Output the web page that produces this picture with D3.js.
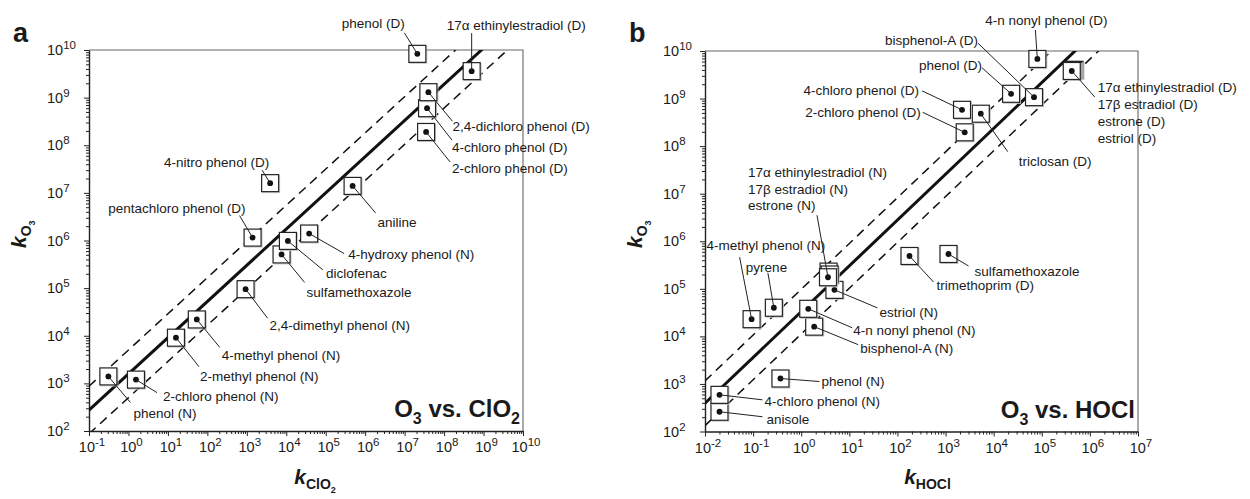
<!DOCTYPE html>
<html>
<head>
<meta charset="utf-8">
<script src="https://cdn.jsdelivr.net/npm/d3@7"></script>
<style>
  body { margin: 0; background: #fff; }
  svg { display: block; }
  text { font-family: Arial, "Liberation Sans", sans-serif; fill: #1a1a1a; }
</style>
</head>
<body>
<svg id="chart" width="1250" height="499"></svg>
<script>
// ---- Panel a: second-order rate constants, O3 vs. ClO2 (M^-1 s^-1) ----
const namesA = [
  "phenol (D)", "17\u03b1 ethinylestradiol (D)", "2,4-dichloro phenol (D)",
  "4-chloro phenol (D)", "2-chloro phenol (D)", "aniline", "4-nitro phenol (D)",
  "pentachloro phenol (D)", "4-hydroxy phenol (N)", "diclofenac", "sulfamethoxazole",
  "2,4-dimethyl phenol (N)", "4-methyl phenol (N)", "2-methyl phenol (N)",
  "phenol (N)", "2-chloro phenol (N)"
];
const kClO2 = [2.1e7, 5.0e8, 4.0e7, 3.7e7, 3.5e7, 4.8e5, 3.9e3, 1.4e3, 3.8e4, 1.1e4, 7.6e3, 9.3e2, 54, 16, 0.31, 1.55];
const kO3A  = [8.3e9, 3.6e9, 1.3e9, 6.0e8, 1.9e8, 1.4e7, 1.6e7, 1.15e6, 1.4e6, 9.8e5, 5.1e5, 9.5e4, 2.2e4, 9.1e3, 1.4e3, 1.2e3];

// ---- Panel b: O3 vs. HOCl ----
const namesB = [
  "4-n nonyl phenol (D)", "bisphenol-A (D)", "phenol (D)", "4-chloro phenol (D)",
  "triclosan (D)", "2-chloro phenol (D)",
  "17\u03b1 ethinylestradiol (D)", "17\u03b2 estradiol (D)", "estrone (D)", "estriol (D)",
  "sulfamethoxazole", "trimethoprim (D)",
  "17\u03b1 ethinylestradiol (N)", "17\u03b2 estradiol (N)", "estrone (N)",
  "4-methyl phenol (N)", "pyrene", "estriol (N)", "4-n nonyl phenol (N)",
  "bisphenol-A (N)", "phenol (N)", "4-chloro phenol (N)", "anisole"
];
const kHOCl = [8.1e4, 6.9e4, 2.3e4, 2.2e3, 5.4e3, 2.5e3, 4.2e5, 4.4e5, 4.6e5, 4.8e5, 1.15e3, 178,
  3.6, 3.9, 3.7, 0.093, 0.27, 4.9, 1.4, 1.86, 0.37, 0.02, 0.02];
const kO3B  = [6.8e9, 1.07e9, 1.26e9, 5.8e8, 4.8e8, 1.95e8, 3.8e9, 3.9e9, 4.0e9, 4.0e9, 5.4e5, 4.9e5,
  1.75e5, 2.0e5, 2.3e5, 2.3e4, 4.0e4, 9.5e4, 3.8e4, 1.6e4, 1.3e3, 590, 260];

// log-log correlation lines: log kO3 = intercept + slope * log k, band = +/- log units
const fitA = [3.2, 0.76, 0.5];
const fitB = [4.52, 0.963, 0.47];

// axis extents (decades)
const xDecadesA = [-1, 10];
const xDecadesB = [-2, 7];
const yDecades = [2, 10];

// Annotation layout: label offset (dx, dy) from the marker, leader end (lx, ly)
const layoutA = {
  "phenol (D)":                 {dx: -44, dy: -26, a: "middle", lx: -13, ly: -21},
  "17\u03b1 ethinylestradiol (D)": {dx: -25, dy: -41, a: "start", lx: 0, ly: -38},
  "2,4-dichloro phenol (D)":    {dx: 24, dy: 39, a: "start", lx: 24, ly: 29},
  "4-chloro phenol (D)":        {dx: 25, dy: 44, a: "start", lx: 25, ly: 32},
  "2-chloro phenol (D)":        {dx: 26, dy: 41, a: "start", lx: 24, ly: 30},
  "aniline":                    {dx: 25, dy: 41, a: "start", lx: 23, ly: 27},
  "4-nitro phenol (D)":         {dx: -1, dy: -16, a: "end", lx: -8, ly: -13},
  "pentachloro phenol (D)":     {dx: -7, dy: -25, a: "end", lx: -13, ly: -22},
  "4-hydroxy phenol (N)":       {dx: 39, dy: 25, a: "start", lx: 35, ly: 20},
  "diclofenac":                 {dx: 38, dy: 37, a: "start", lx: 35, ly: 29},
  "sulfamethoxazole":           {dx: 25, dy: 43, a: "start", lx: 23, ly: 28},
  "2,4-dimethyl phenol (N)":    {dx: 24, dy: 41, a: "start", lx: 22, ly: 29},
  "4-methyl phenol (N)":        {dx: 25, dy: 41, a: "start", lx: 23, ly: 28},
  "2-methyl phenol (N)":        {dx: 24, dy: 43, a: "start", lx: 23, ly: 29},
  "phenol (N)":                 {dx: 25, dy: 42, a: "start", lx: 22, ly: 26},
  "2-chloro phenol (N)":        {dx: 27, dy: 21, a: "start", lx: 21, ly: 13}
};
const layoutB = {
  "4-n nonyl phenol (D)":  {dx: 9, dy: -34, a: "middle", lx: -2, ly: -29},
  "bisphenol-A (D)":       {dx: -56, dy: -52, a: "end", lx: -56, ly: -54},
  "phenol (D)":            {dx: -29, dy: -24, a: "end", lx: -29, ly: -26},
  "4-chloro phenol (D)":   {dx: -43, dy: -15, a: "end", lx: -40, ly: -19},
  "triclosan (D)":         {dx: 38, dy: 52, a: "start", lx: 27, ly: 38},
  "2-chloro phenol (D)":   {dx: -44, dy: -15, a: "end", lx: -42, ly: -20},
  "17\u03b1 ethinylestradiol (D)": {dx: 26, dy: 21, a: "start", lx: 23, ly: 26, step: 17,
    lines: ["17\u03b1  ethinylestradiol (D)", "17\u03b2 estradiol (D)", "estrone (D)", "estriol (D)"]},
  "sulfamethoxazole":      {dx: 26, dy: 22, a: "start", lx: 20, ly: 12},
  "trimethoprim (D)":      {dx: 27, dy: 34, a: "start", lx: 24, ly: 26},
  "17\u03b1 ethinylestradiol (N)": {dx: -80, dy: -100, a: "start", lx: -11, ly: -62, step: 16.5,
    lines: ["17\u03b1 ethinylestradiol (N)", "17\u03b2 estradiol (N)", "estrone (N)"]},
  "4-methyl phenol (N)":   {dx: -45, dy: -69, a: "start", lx: -12, ly: -62},
  "pyrene":                {dx: -28, dy: -36, a: "start", lx: -6, ly: -35},
  "estriol (N)":           {dx: 45, dy: 27, a: "start", lx: 43, ly: 18},
  "4-n nonyl phenol (N)":  {dx: 45, dy: 26, a: "start", lx: 44, ly: 19},
  "bisphenol-A (N)":       {dx: 46, dy: 26, a: "start", lx: 44, ly: 18},
  "phenol (N)":            {dx: 41, dy: 7, a: "start", lx: 39, ly: 3},
  "4-chloro phenol (N)":   {dx: 45, dy: 11, a: "start", lx: 43, ly: 5},
  "anisole":               {dx: 47, dy: 12, a: "start", lx: 43, ly: 5}
};

const svg = d3.select("#chart");

function drawPanel(opt) {
  const x = d3.scaleLog().domain([10 ** opt.xDec[0], 10 ** opt.xDec[1]]).range(opt.xRange);
  const y = d3.scaleLog().domain([10 ** yDecades[0], 10 ** yDecades[1]]).range(opt.yRange);
  const [x0, x1] = opt.xRange, [y0, y1] = opt.yRange; // y0 bottom, y1 top
  const g = svg.append("g");

  const clipId = "clip-" + opt.id;
  g.append("clipPath").attr("id", clipId)
    .append("rect").attr("x", x0).attr("y", y1).attr("width", x1 - x0).attr("height", y0 - y1);

  // frame: top and right edges
  g.append("path")
    .attr("d", `M${x0},${y1}H${x1}V${y0}`)
    .attr("fill", "none").attr("stroke", "#666").attr("stroke-width", 1.1);

  // ticks
  const major = d3.range(opt.xDec[0], opt.xDec[1] + 1).map(e => 10 ** e);
  const minorX = [];
  for (let e = opt.xDec[0]; e < opt.xDec[1]; e++) for (let m = 2; m <= 9; m++) minorX.push(m * 10 ** e);
  const majorY = d3.range(yDecades[0], yDecades[1] + 1).map(e => 10 ** e);
  const minorY = [];
  for (let e = yDecades[0]; e < yDecades[1]; e++) for (let m = 2; m <= 9; m++) minorY.push(m * 10 ** e);

  const styleAxis = sel => {
    sel.selectAll("path.domain").attr("stroke", "#222").attr("stroke-width", 1.4);
    sel.selectAll(".tick line").attr("stroke", "#222").attr("stroke-width", 1);
    sel.selectAll(".tick text").remove();
  };
  g.append("g").attr("transform", `translate(0,${y0})`)
    .call(d3.axisBottom(x).tickValues(minorX).tickSize(3).tickSizeOuter(0).tickFormat(""))
    .call(styleAxis).call(s => s.select("path.domain").remove());
  g.append("g").attr("transform", `translate(0,${y0})`)
    .call(d3.axisBottom(x).tickValues(major).tickSize(5).tickSizeOuter(0).tickFormat(""))
    .call(styleAxis);
  g.append("g").attr("transform", `translate(${x0},0)`)
    .call(d3.axisLeft(y).tickValues(minorY).tickSize(3).tickSizeOuter(0).tickFormat(""))
    .call(styleAxis).call(s => s.select("path.domain").remove());
  g.append("g").attr("transform", `translate(${x0},0)`)
    .call(d3.axisLeft(y).tickValues(majorY).tickSize(5).tickSizeOuter(0).tickFormat(""))
    .call(styleAxis);

  // tick labels as 10^n
  const powLabel = (sel, e) => {
    sel.append("tspan").text("10");
    sel.append("tspan").attr("font-size", 11.5).attr("dy", -6).text(e);
  };
  major.forEach(v => {
    const e = Math.round(Math.log10(v));
    g.append("text").attr("x", x(v) + 3).attr("y", y0 + 21)
      .attr("text-anchor", "middle").attr("font-size", 14.5).call(powLabel, e);
  });
  majorY.forEach(v => {
    const e = Math.round(Math.log10(v));
    g.append("text").attr("x", x0 - 42).attr("y", y(v) + 5)
      .attr("text-anchor", "start").attr("font-size", 14.5).call(powLabel, e);
  });

  // correlation line and +/- band
  const [b0, b1, band] = opt.fit;
  const lineAt = off => {
    const xs = [10 ** opt.xDec[0], 10 ** opt.xDec[1]];
    return xs.map(v => [x(v), y(10 ** (b0 + off + b1 * Math.log10(v)))]);
  };
  const lg = g.append("g").attr("clip-path", `url(#${clipId})`);
  lg.append("path").attr("d", d3.line()(lineAt(0)))
    .attr("stroke", "#111").attr("stroke-width", 3).attr("fill", "none");
  [band, -band].forEach(off => {
    lg.append("path").attr("d", d3.line()(lineAt(off)))
      .attr("stroke", "#111").attr("stroke-width", 1.5).attr("fill", "none")
      .attr("stroke-dasharray", "9,6");
  });

  // markers: boxed dots, first entries drawn on top
  const pts = opt.names.map((n, i) => ({name: n, px: x(opt.kx[i]), py: y(opt.ky[i])}));
  const box = 17;
  const mg = g.append("g");
  pts.slice().reverse().forEach(p => {
    mg.append("rect").attr("x", p.px - box / 2 + 1).attr("y", p.py - box / 2 + 1)
      .attr("width", box).attr("height", box).attr("fill", "none")
      .attr("stroke", "#c8c8c8").attr("stroke-width", 1);
    mg.append("rect").attr("x", p.px - box / 2).attr("y", p.py - box / 2)
      .attr("width", box).attr("height", box).attr("fill", "#fff")
      .attr("stroke", "#222").attr("stroke-width", 1.2);
    mg.append("circle").attr("cx", p.px).attr("cy", p.py).attr("r", 2.9).attr("fill", "#111");
  });

  // leaders and labels
  const ag = g.append("g");
  pts.forEach(p => {
    const L = opt.layout[p.name];
    if (!L) return;
    ag.append("line").attr("x1", p.px).attr("y1", p.py)
      .attr("x2", p.px + L.lx).attr("y2", p.py + L.ly)
      .attr("stroke", "#222").attr("stroke-width", 1);
    const lines = L.lines || [p.name];
    lines.forEach((t, k) => {
      ag.append("text").attr("x", p.px + L.dx).attr("y", p.py + L.dy + k * (L.step || 0))
        .attr("text-anchor", L.a).attr("font-size", 13.5).text(t);
    });
  });

  // panel title in the lower right corner
  const tt = g.append("text").attr("x", x1 - 3).attr("y", y0 - 14)
    .attr("text-anchor", "end").attr("font-size", 24).attr("font-weight", "bold");
  opt.title.forEach(([t, sub]) => {
    const ts = tt.append("tspan").text(t);
    if (sub) ts.attr("font-size", 16).attr("dy", 7);
    else ts.attr("dy", sub === false ? -7 : 0);
  });

  // axis titles
  const cx = (x0 + x1) / 2;
  const xt = g.append("text").attr("x", cx + opt.xTitleShift).attr("y", 484)
    .attr("text-anchor", "middle").attr("font-weight", "bold");
  xt.append("tspan").attr("font-size", 21).attr("font-style", "italic").text("k");
  xt.append("tspan").attr("font-size", 14).attr("dy", 5).text(opt.xSub);
  if (opt.xSub2) xt.append("tspan").attr("font-size", 9).attr("dy", 4).text(opt.xSub2);

  const yt = g.append("text").attr("transform", `translate(${x0 - 63},248) rotate(-90)`)
    .attr("text-anchor", "start").attr("font-weight", "bold");
  yt.append("tspan").attr("font-size", 21).attr("font-style", "italic").text("k");
  yt.append("tspan").attr("font-size", 14).attr("dy", 5).text("O");
  yt.append("tspan").attr("font-size", 9).attr("dy", 4).text("3");

  // panel letter
  g.append("text").attr("x", x0 - 76).attr("y", 42)
    .attr("font-size", 27).attr("font-weight", "bold").text(opt.letter);
}

drawPanel({
  id: "a", letter: "a",
  xDec: xDecadesA, xRange: [89, 523], yRange: [431, 50],
  names: namesA, kx: kClO2, ky: kO3A, layout: layoutA, fit: fitA,
  title: [["O"], ["3", true], [" vs. ClO", false], ["2", true]],
  xSub: "ClO", xSub2: "2", xTitleShift: 9
});
drawPanel({
  id: "b", letter: "b",
  xDec: xDecadesB, xRange: [705, 1138], yRange: [431.5, 51],
  names: namesB, kx: kHOCl, ky: kO3B, layout: layoutB, fit: fitB,
  title: [["O"], ["3", true], [" vs. HOCl", false]],
  xSub: "HOCl", xSub2: null, xTitleShift: 6
});
</script>
</body>
</html>
